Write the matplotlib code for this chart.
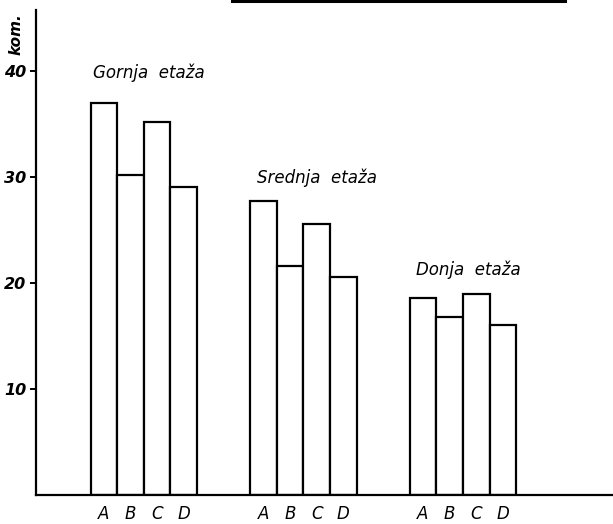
import matplotlib
matplotlib.use("Agg")
import matplotlib.pyplot as plt
from matplotlib.lines import Line2D

groups = ["Gornja etaža", "Srednja etaža", "Donja etaža"]
bars = ["A", "B", "C", "D"]
values = [
    [37.0, 30.2, 35.2, 29.1],
    [27.8, 21.6, 25.6, 20.6],
    [18.6, 16.8, 19.0, 16.1],
]
yticks = [10, 20, 30, 40]
group_label_pos = [(2.15, 39.9), (8.3, 30.0), (14.3, 21.3)]

W, H = 613, 524
fig = plt.figure(figsize=(W / 100, H / 100), dpi=100)
ax_left, ax_bottom, ax_top = 36, 495.3, 10
ax = fig.add_axes([ax_left / W, (H - ax_bottom) / H, (W - ax_left) / W, (ax_bottom - ax_top) / H])

ymax = (ax_bottom - ax_top) / 10.6
ax.set_ylim(0, ymax)
ax.set_xlim(0, (W - ax_left) / 26.6)

font = dict(family="DejaVu Sans", style="italic")
xt, xl = [], []
for g, gname in enumerate(groups):
    for i, b in enumerate(bars):
        x0 = 2.05 + 6 * g + i
        ax.bar(x0, values[g][i], width=1.0, align="edge", facecolor="white",
               edgecolor="black", linewidth=1.6, zorder=2)
        xt.append(x0 + 0.5)
        xl.append(b)
    gx, gy = group_label_pos[g]
    ax.text(gx, gy, gname.replace(" ", "  "), ha="left", va="center", fontsize=12, **font)

ax.spines["top"].set_visible(False)
ax.spines["right"].set_visible(False)
ax.spines["left"].set_linewidth(1.6)
ax.spines["bottom"].set_linewidth(1.6)

ax.set_xticks(xt)
ax.set_xticklabels(xl, fontsize=12, **font)
ax.tick_params(axis="x", length=0, pad=7)
ax.set_yticks(yticks)
ax.set_yticklabels([str(v) for v in yticks], fontsize=11.5, weight="bold", **font)
ax.tick_params(axis="y", direction="out", length=4, width=1.4, pad=3)

ax.text(-0.45, ymax - 0.3, "kom.", rotation=90, ha="right", va="top",
        fontsize=11, weight="bold", **font)

fig.add_artist(Line2D([232 / W, 565 / W], [1 - 1.2 / H, 1 - 1.2 / H],
                      color="black", linewidth=2.2))

fig.savefig("out.png", dpi=100, facecolor="white")
